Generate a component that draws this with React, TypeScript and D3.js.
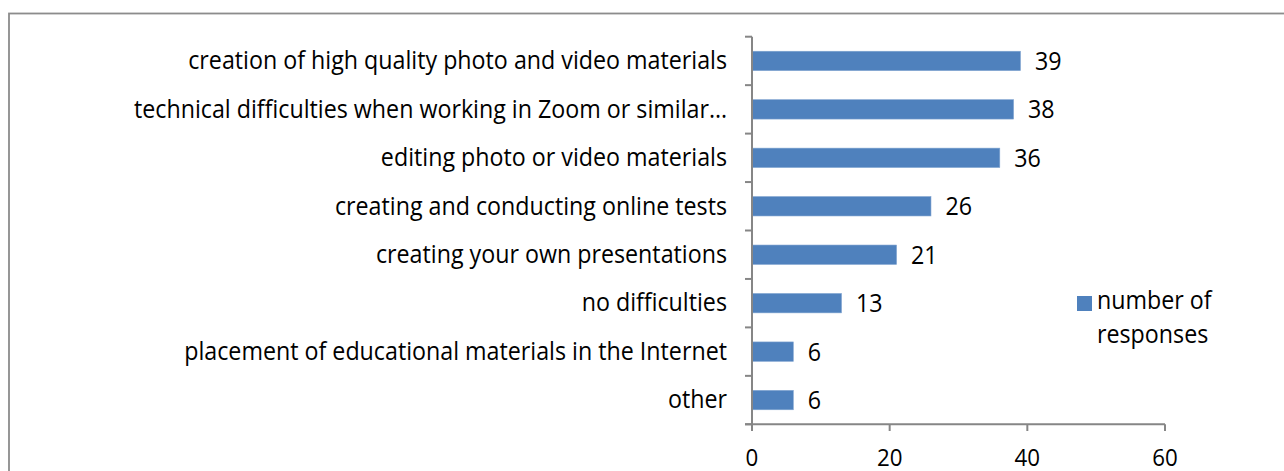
import React from "react";
import * as d3 from "d3";

const categories = [
  "creation of high quality photo and video materials",
  "technical difficulties when working in Zoom or similar…",
  "editing photo or video materials",
  "creating and conducting online tests",
  "creating your own presentations",
  "no difficulties",
  "placement of educational materials in the Internet",
  "other",
];
const values = [39, 38, 36, 26, 21, 13, 6, 6];
const xTicks = [0, 20, 40, 60];
const seriesName = ["number of", "responses"];

const W = 1284;
const H = 471;
const FONT = "'Open Sans', sans-serif";
const FS = 25;
const SX = 0.93;

function T(props: { x: number; y: number; anchor?: string; dy?: string; size?: number; children: React.ReactNode }) {
  return (
    <g transform={`translate(${props.x},${props.y}) scale(${SX},1)`}>
      <text x={0} y={0} dy={props.dy} fontSize={props.size || FS} textAnchor={props.anchor || "start"} fill="#000">
        {props.children}
      </text>
    </g>
  );
}

export default function App() {
  const x = d3.scaleLinear().domain([0, 60]).range([752, 1165]);
  const y = d3.scaleBand().domain(categories).range([36.7, 424.3]).paddingInner(0.6).paddingOuter(0.3);
  const band = (424.3 - 36.7) / categories.length;
  const axisColor = "#868686";
  return (
    <svg width={W} height={H} style={{ position: "absolute", left: 0, top: 0 }} fontFamily={FONT}>
      <rect x={0} y={0} width={W} height={H} fill="#fff" />
      <rect x={9} y={13.5} width={W + 20} height={H + 20} fill="none" stroke="#8c8c8c" strokeWidth={1.8} />
      {/* bars */}
      {categories.map((c, i) => (
        <g key={c}>
          <rect
            x={x(0)}
            y={y(c)!}
            width={x(values[i]) - x(0)}
            height={y.bandwidth()}
            fill="#4F81BD"
            stroke="#7FA3D0"
            strokeWidth={0.6}
          />
          <T x={x(values[i]) + 14.5} y={y(c)! + y.bandwidth() / 2} dy="0.36em">
            {values[i]}
          </T>
          <T x={727} y={36.7 + band * (i + 0.5)} dy="0.33em" anchor="end">
            {c}
          </T>
        </g>
      ))}
      {/* category axis */}
      <line x1={x(0)} x2={x(0)} y1={36.7} y2={431} stroke={axisColor} strokeWidth={2} />
      {d3.range(categories.length + 1).map((i) => (
        <line key={i} x1={745} x2={x(0)} y1={36.7 + band * i} y2={36.7 + band * i} stroke={axisColor} strokeWidth={2} />
      ))}
      {/* value axis */}
      <line x1={745} x2={x(60)} y1={424.3} y2={424.3} stroke={axisColor} strokeWidth={2} />
      {xTicks.map((t) => (
        <g key={t}>
          <line x1={x(t)} x2={x(t)} y1={424.3} y2={431} stroke={axisColor} strokeWidth={2} />
          <T x={x(t)} y={465.5} anchor="middle" size={24}>
            {t}
          </T>
        </g>
      ))}
      {/* legend */}
      <rect x={1077} y={296} width={15} height={15} fill="#4F81BD" />
      <T x={1097} y={309.3}>{seriesName[0]}</T>
      <T x={1097} y={342.7}>{seriesName[1]}</T>
    </svg>
  );
}
